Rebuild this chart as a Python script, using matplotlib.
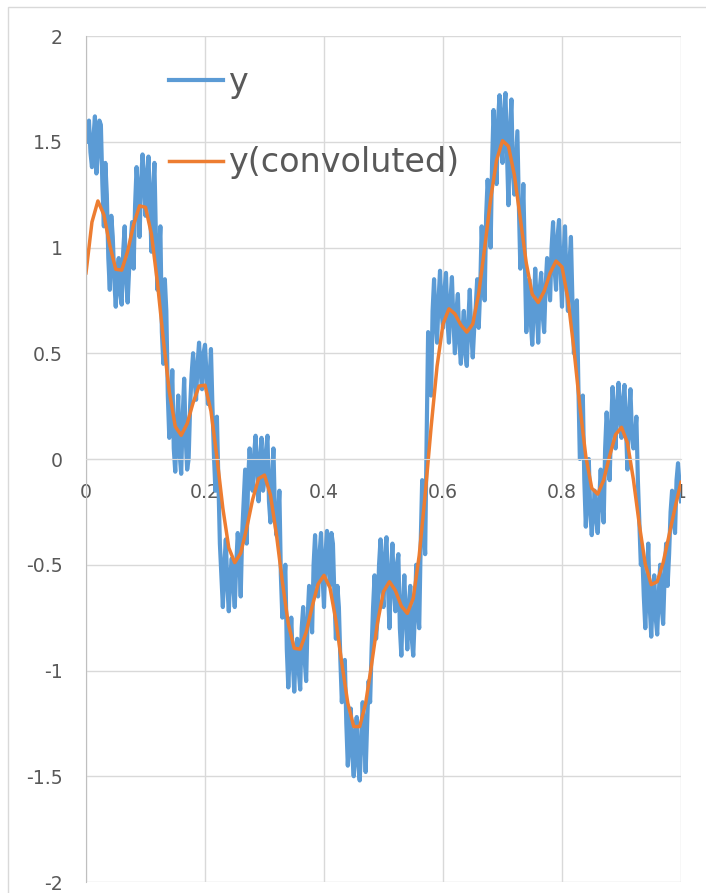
import numpy as np
import matplotlib
matplotlib.use("Agg")
import matplotlib.pyplot as plt
from matplotlib.patches import Rectangle

# noisy signal, every 0.0025
y_raw = [
    1.50, 1.56, 1.60, 1.45, 1.38, 1.52, 1.62, 1.35, 1.45, 1.60,
    1.58, 1.30, 1.10, 1.40, 1.25, 0.95, 0.80, 1.15, 1.05, 0.85,
    0.72, 0.88, 0.95, 0.78, 0.73, 0.98, 1.10, 0.85, 0.74, 0.90,
    1.02, 1.12, 0.90, 1.20, 1.38, 1.25, 1.05, 1.30, 1.44, 1.35,
    1.15, 1.30, 1.43, 1.20, 0.98, 1.25, 1.40, 1.05, 0.80, 0.95,
    1.10, 0.60, 0.45, 0.85, 0.70, 0.30, 0.10, 0.20, 0.42, 0.05,
    -0.06, 0.15, 0.30, 0.02, -0.07, 0.20, 0.38, 0.10, -0.05, 0.00,
    0.25, 0.40, 0.50, 0.38, 0.28, 0.45, 0.55, 0.42, 0.33, 0.50,
    0.54, 0.40, 0.26, 0.35, 0.52, 0.25, 0.02, -0.15, 0.20, -0.10,
    -0.40, -0.55, -0.70, -0.50, -0.38, -0.60, -0.72, -0.55, -0.47, -0.60,
    -0.70, -0.50, -0.35, -0.45, -0.65, -0.35, -0.20, -0.05, -0.40, -0.10,
    0.05, -0.08, -0.15, 0.02, 0.11, -0.05, -0.20, 0.00, 0.10, -0.15,
    -0.10, 0.04, 0.11, -0.20, -0.30, -0.10, 0.05, -0.25, -0.36, -0.30,
    -0.15, -0.55, -0.75, -0.62, -0.50, -0.90, -1.08, -0.92, -0.75, -0.95,
    -1.10, -0.90, -0.85, -1.00, -1.09, -0.80, -0.70, -0.95, -1.05, -0.75,
    -0.60, -0.70, -0.82, -0.50, -0.36, -0.55, -0.65, -0.45, -0.35, -0.55,
    -0.70, -0.45, -0.34, -0.50, -0.60, -0.35, -0.40, -0.65, -0.85, -0.60,
    -0.70, -0.95, -1.15, -1.00, -0.95, -1.25, -1.45, -1.30, -1.18, -1.40,
    -1.50, -1.30, -1.22, -1.45, -1.52, -1.35, -1.15, -1.30, -1.48, -1.25,
    -1.05, -1.15, -0.90, -0.70, -0.55, -0.85, -0.75, -0.50, -0.38, -0.60,
    -0.70, -0.45, -0.37, -0.60, -0.80, -0.55, -0.40, -0.62, -0.72, -0.50,
    -0.45, -0.80, -0.93, -0.70, -0.55, -0.75, -0.90, -0.70, -0.60, -0.85,
    -0.93, -0.75, -0.50, -0.70, -0.80, -0.40, -0.10, -0.30, -0.45, 0.10,
    0.60, 0.45, 0.30, 0.70, 0.85, 0.65, 0.55, 0.75, 0.89, 0.70,
    0.62, 0.80, 0.88, 0.65, 0.55, 0.75, 0.86, 0.65, 0.50, 0.70,
    0.78, 0.55, 0.45, 0.60, 0.70, 0.50, 0.44, 0.65, 0.80, 0.60,
    0.48, 0.62, 0.72, 0.85, 0.62, 0.80, 1.10, 0.90, 0.75, 1.15,
    1.32, 1.20, 1.00, 1.40, 1.65, 1.45, 1.30, 1.60, 1.72, 1.50,
    1.40, 1.65, 1.73, 1.45, 1.20, 1.55, 1.70, 1.35, 1.25, 1.40,
    1.55, 1.20, 0.90, 1.05, 1.30, 0.95, 0.60, 0.75, 0.85, 0.65,
    0.54, 0.70, 0.90, 0.72, 0.55, 0.80, 0.88, 0.68, 0.60, 0.82,
    0.95, 0.85, 0.75, 1.00, 1.12, 0.90, 0.80, 1.05, 1.13, 0.90,
    0.72, 0.95, 1.10, 0.85, 0.70, 0.92, 1.05, 0.75, 0.50, 0.60,
    0.75, 0.35, 0.00, 0.15, 0.30, -0.10, -0.32, -0.15, 0.00, -0.25,
    -0.36, -0.25, -0.15, -0.28, -0.35, -0.20, -0.05, -0.20, -0.30, 0.05,
    0.22, 0.10, -0.10, 0.15, 0.34, 0.20, 0.05, 0.25, 0.36, 0.20,
    0.10, 0.28, 0.35, 0.15, -0.05, 0.20, 0.33, 0.12, 0.05, 0.10,
    0.20, -0.10, -0.30, -0.50, -0.45, -0.65, -0.80, -0.60, -0.40, -0.70,
    -0.84, -0.65, -0.55, -0.75, -0.83, -0.65, -0.50, -0.70, -0.78, -0.55,
    -0.40, -0.60, -0.45, -0.25, -0.15, -0.30, -0.35, -0.10, -0.02, -0.12,
    -0.20,
]

# smoothed signal, every 0.01
y_conv = [
    0.88, 1.12, 1.22, 1.155, 1.01, 0.897, 0.893, 0.982, 1.108, 1.197,
    1.19, 1.063, 0.835, 0.564, 0.318, 0.154, 0.112, 0.167, 0.266, 0.345,
    0.349, 0.227, 0.009, -0.233, -0.42, -0.49, -0.445, -0.328, -0.192, -0.093,
    -0.076, -0.17, -0.356, -0.58, -0.779, -0.895, -0.899, -0.82, -0.699, -0.592,
    -0.55, -0.608, -0.764, -0.967, -1.154, -1.265, -1.265, -1.155, -0.971, -0.773,
    -0.627, -0.58, -0.622, -0.695, -0.73, -0.658, -0.456, -0.17, 0.15, 0.438,
    0.638, 0.71, 0.686, 0.634, 0.60, 0.638, 0.782, 0.997, 1.228, 1.412,
    1.505, 1.479, 1.342, 1.136, 0.926, 0.779, 0.74, 0.793, 0.879, 0.936,
    0.908, 0.757, 0.52, 0.25, 0.013, -0.138, -0.166, -0.10, 0.014, 0.115,
    0.15, 0.076, -0.097, -0.311, -0.498, -0.594, -0.58, -0.49, -0.36, -0.23,
    -0.11,
]

x_raw = np.linspace(0, 1, len(y_raw))
x_conv = np.linspace(0, 1, len(y_conv))

x_ticks = [0, 0.2, 0.4, 0.6, 0.8, 1]
x_tick_labels = ['0', '0.2', '0.4', '0.6', '0.8', '1']
y_ticks = [-2, -1.5, -1, -0.5, 0, 0.5, 1, 1.5, 2]
y_tick_labels = ['-2', '-1.5', '-1', '-0.5', '0', '0.5', '1', '1.5', '2']

blue = '#5B9BD5'
orange = '#ED7D31'
grid_c = '#D9D9D9'
text_c = '#595959'

W, H = 706, 893
fig = plt.figure(figsize=(W / 100, H / 100), dpi=100)
ax = fig.add_axes([86 / W, 1 - 882 / H, (681 - 86) / W, (882 - 36) / H])

# chart frame (cut off at right and bottom, as in the screenshot)
fig.patches.append(Rectangle((8 / W, -0.1), 1.2, 1 - 7 / H + 0.1,
                             transform=fig.transFigure, fill=False,
                             edgecolor=grid_c, linewidth=1.0))

ax.plot(x_raw, y_raw, color=blue, linewidth=3.0, solid_joinstyle='round', label='y')
ax.plot(x_conv, y_conv, color=orange, linewidth=2.5, solid_joinstyle='round',
        label='y(convoluted)')

ax.set_xlim(0, 1)
ax.set_ylim(-2, 2)
ax.set_xticks(x_ticks)
ax.set_xticklabels(x_tick_labels)
ax.set_yticks(y_ticks)
ax.set_yticklabels(y_tick_labels)
ax.grid(True, color=grid_c, linewidth=1.0)
ax.set_axisbelow(True)

for side in ['top', 'right']:
    ax.spines[side].set_visible(False)
ax.spines['left'].set_color('#BFBFBF')
ax.spines['bottom'].set_position(('data', 0))
ax.spines['bottom'].set_color(grid_c)
ax.tick_params(axis='both', length=0, labelsize=13.6, colors=text_c)
ax.tick_params(axis='x', pad=17)
ax.tick_params(axis='y', pad=17)

leg = ax.legend(loc='upper left', bbox_to_anchor=(169 / W, 1 - 66 / H),
                bbox_transform=fig.transFigure, frameon=False, fontsize=24,
                handlelength=1.62, handletextpad=0.15, labelspacing=1.42,
                borderpad=0, borderaxespad=0)
for t in leg.get_texts():
    t.set_color(text_c)

fig.savefig('out.png', dpi=100)
